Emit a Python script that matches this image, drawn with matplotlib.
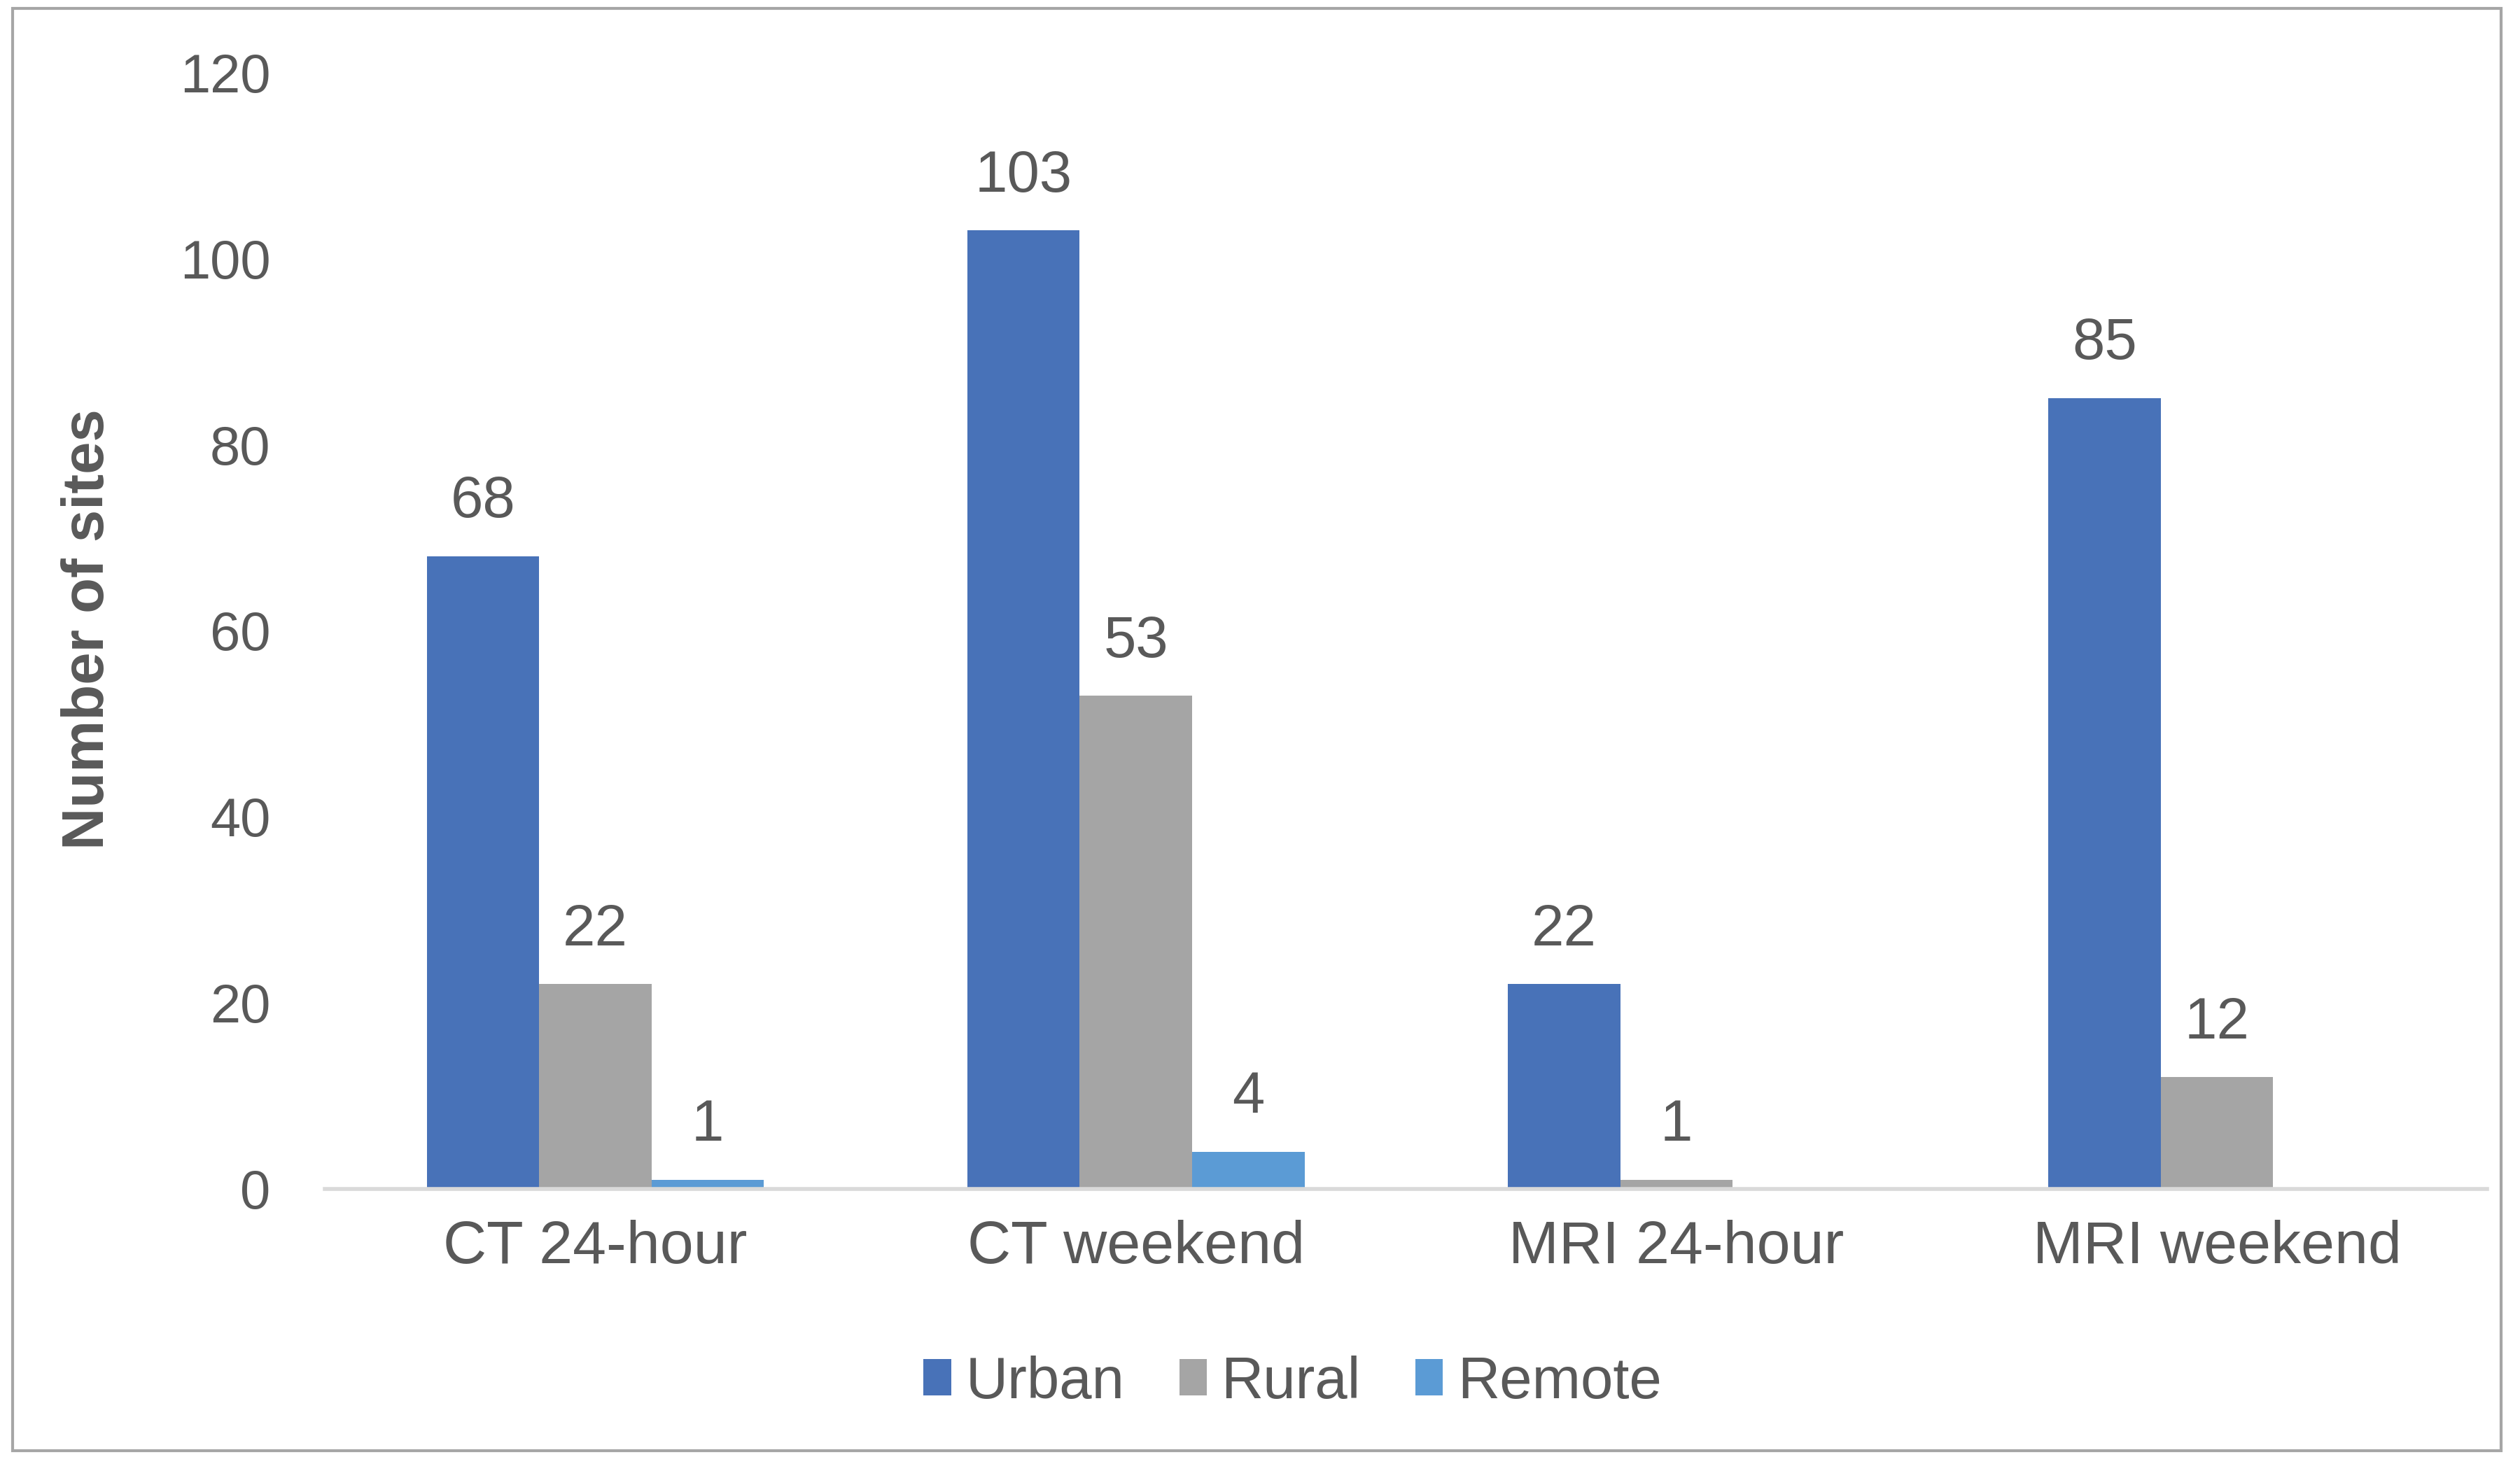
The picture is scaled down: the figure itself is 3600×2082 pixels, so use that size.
import numpy as np
import matplotlib
matplotlib.use('Agg')
import matplotlib.pyplot as plt
from matplotlib.patches import Rectangle

plt.rcParams['font.family'] = ['Liberation Sans', 'DejaVu Sans']

# data
categories = ['CT 24-hour', 'CT weekend', 'MRI 24-hour', 'MRI weekend']
urban = [68, 103, 22, 85]
rural = [22, 53, 1, 12]
remote = [1, 4, np.nan, np.nan]  # no remote bars for MRI

series_names = ['Urban', 'Rural', 'Remote']
series_colors = ['#4872B8', '#A5A5A5', '#5B9BD5']
text_col = '#595959'

fig = plt.figure(figsize=(18, 10.41), dpi=200)
ax = fig.add_axes([0.129, 0.184, 0.858, 0.7665])

x = np.arange(len(categories))
w = 0.208
for i, (name, vals, col) in enumerate(zip(series_names, [urban, rural, remote], series_colors)):
    vals = np.array(vals, dtype=float)
    pos = x + (i - 1) * w
    ax.bar(pos, np.nan_to_num(vals), width=w, color=col, label=name, zorder=2)
    for px, v in zip(pos, vals):
        if np.isnan(v):
            continue
        ax.annotate(str(int(v)), (px, v), xytext=(0, 20), textcoords='offset points',
                    ha='center', va='baseline', fontsize=30, color=text_col)

ax.set_xlim(-0.5, 3.5)
ax.set_ylim(0, 120)
ax.set_yticks(range(0, 121, 20))
ax.set_xticks(x)
ax.set_xticklabels(categories)

for s in ['top', 'right', 'left']:
    ax.spines[s].set_visible(False)
ax.spines['bottom'].set_color('#D9D9D9')
ax.spines['bottom'].set_linewidth(2)
ax.spines['bottom'].set_zorder(3)

ax.tick_params(axis='y', length=0, pad=28, labelsize=28, labelcolor=text_col)
ax.tick_params(axis='x', length=0, pad=16, labelsize=31, labelcolor=text_col)

fig.text(0.035, 0.568, 'Number of sites', rotation=90, ha='center', va='center',
         fontsize=30, fontweight='bold', color=text_col)

leg = fig.legend(loc='center', bbox_to_anchor=(0.513, 0.051), ncol=3, frameon=False,
                 fontsize=30, handlelength=0.47, handleheight=0.58, handletextpad=0.25,
                 columnspacing=0.94, labelcolor=text_col)

# outer chart border
border = Rectangle((0.005, 0.0043), 0.9875, 0.99, transform=fig.transFigure,
                   fill=False, edgecolor='#A6A6A6', linewidth=1.5)
fig.patches.append(border)

fig.savefig('out.png', dpi=200)
